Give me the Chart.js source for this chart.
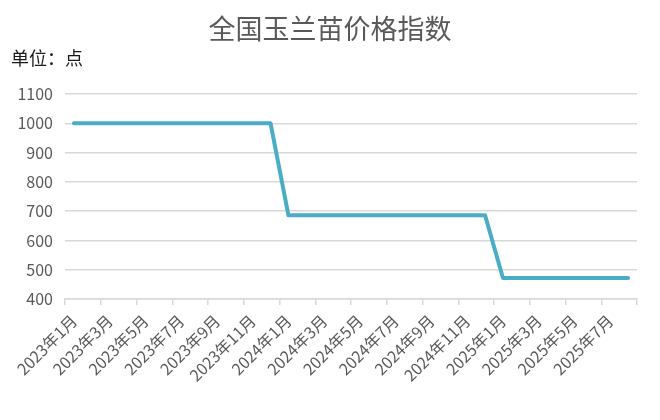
<!DOCTYPE html>
<html>
<head>
<meta charset="utf-8">
<script src="https://cdn.jsdelivr.net/npm/chart.js@4.4.1/dist/chart.umd.min.js"></script>
<style>
  html, body { margin: 0; padding: 0; background: #fff; }
  #wrap { width: 660px; height: 420px; }
</style>
</head>
<body>
<div id="wrap"><canvas id="myChart"></canvas></div>
<script>
const months = [
  "2023年1月", "2023年2月", "2023年3月", "2023年4月", "2023年5月", "2023年6月",
  "2023年7月", "2023年8月", "2023年9月", "2023年10月", "2023年11月", "2023年12月",
  "2024年1月", "2024年2月", "2024年3月", "2024年4月", "2024年5月", "2024年6月",
  "2024年7月", "2024年8月", "2024年9月", "2024年10月", "2024年11月", "2024年12月",
  "2025年1月", "2025年2月", "2025年3月", "2025年4月", "2025年5月", "2025年6月",
  "2025年7月", "2025年8月"
];

const priceIndex = [
  1000, 1000, 1000, 1000, 1000, 1000, 1000, 1000, 1000, 1000, 1000, 1000,
  686, 686, 686, 686, 686, 686, 686, 686, 686, 686, 686, 686,
  472, 472, 472, 472, 472, 472, 472, 472
];

const yTicks = [400, 500, 600, 700, 800, 900, 1000, 1100];

const grey = "#595959";
const gridGrey = "#d9d9d9";
const cjk = "'Noto Sans CJK SC', 'Microsoft YaHei', sans-serif";

const myChart = new Chart(document.getElementById("myChart"), {
  type: "line",
  data: {
    labels: months,
    datasets: [
      {
        data: priceIndex,
        borderColor: "#4bacc6",
        backgroundColor: "#4bacc6",
        borderWidth: 4,
        borderCapStyle: "round",
        borderJoinStyle: "round",
        pointRadius: 0,
        tension: 0,
      },
    ],
  },
  options: {
    responsive: true,
    maintainAspectRatio: false,
    animation: false,
    layout: {
      padding: { left: 11, right: 11, top: 0, bottom: 29 },
    },
    plugins: {
      legend: { display: false },
      tooltip: { enabled: false },
      title: {
        display: true,
        text: "全国玉兰苗价格指数",
        color: grey,
        font: { family: cjk, size: 27, weight: "normal" },
        padding: { top: 13, bottom: 2 },
      },
      subtitle: {
        display: true,
        text: "单位：点",
        align: "start",
        color: "#1a1a1a",
        font: { family: cjk, size: 18, weight: "normal" },
        padding: { top: 0, bottom: 25 },
      },
    },
    scales: {
      x: {
        offset: true,
        grid: {
          offset: true,
          drawOnChartArea: false,
          tickLength: 6,
          lineWidth: 1.5,
          // tick marks only every second month, plus the closing one
          color: (ctx) => (ctx.index === undefined || ctx.index % 2 === 0 ? gridGrey : "rgba(0,0,0,0)"),
        },
        border: { color: gridGrey, width: 1.5 },
        ticks: {
          autoSkip: false,
          minRotation: 45,
          maxRotation: 45,
          color: grey,
          padding: 6,
          font: { family: cjk, size: 16 },
          callback: (value, index) => (index % 2 === 0 ? months[index] : ""),
        },
      },
      y: {
        min: yTicks[0],
        max: yTicks[yTicks.length - 1],
        afterBuildTicks: (scale) => {
          scale.ticks = yTicks.map((v) => ({ value: v }));
        },
        afterFit: (scale) => {
          scale.width = 54;
        },
        grid: {
          color: gridGrey,
          lineWidth: 1.5,
          drawTicks: false,
        },
        border: { display: false },
        ticks: {
          color: grey,
          padding: 12,
          font: { family: cjk, size: 16 },
          callback: (value) => String(value),
        },
      },
      // empty right-hand strip so the plot ends where the reference does
      yRight: {
        position: "right",
        grid: { display: false },
        border: { display: false },
        ticks: { display: false },
        afterFit: (scale) => {
          scale.width = 12;
        },
      },
    },
  },
});
</script>
</body>
</html>
